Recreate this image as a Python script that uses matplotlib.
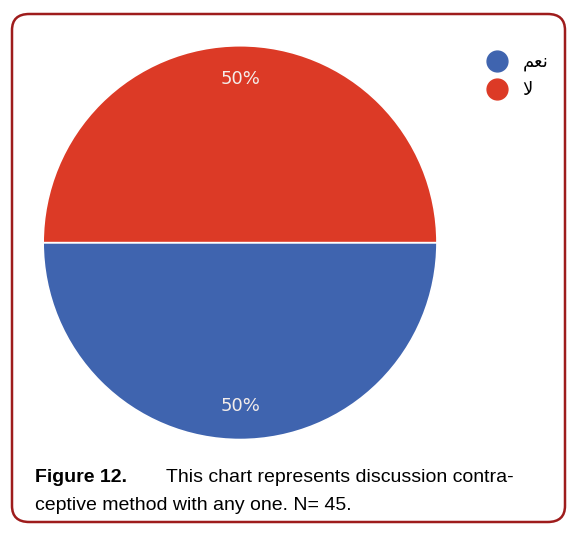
import matplotlib
matplotlib.use('Agg')
import matplotlib.pyplot as plt
from matplotlib.patches import FancyBboxPatch
from matplotlib.lines import Line2D

# Data
labels = ["\uFEE2\uFECC\uFEE7", "\uFEFB"]  # نعم , لا (visual order, shaped forms)
values = [50, 50]
colors = ["#3F64AF", "#DC3A26"]

W, H = 575, 538
fig = plt.figure(figsize=(W/100, H/100), dpi=100)

# rounded border
border = FancyBboxPatch((12/W, 16/H), 553/W, 508/H, boxstyle="round,pad=0,rounding_size=0.03",
                        transform=fig.transFigure, fill=False, edgecolor="#9E1C1C", linewidth=1.8)
fig.patches.append(border)

ax = fig.add_axes([0.075, 0.183, 0.685, 0.732])
wedges, texts, autotexts = ax.pie(values, colors=colors, startangle=180, counterclock=True,
                                  autopct='%1.0f%%', pctdistance=0.83,
                                  wedgeprops=dict(edgecolor='white', linewidth=1.2),
                                  textprops=dict(color='#F4EDEA', fontsize=13))
ax.set_xlim(-1, 1)
ax.set_ylim(-1, 1)
ax.set_aspect('equal')

handles = [Line2D([], [], marker='o', linestyle='', markersize=15, color=c) for c in colors]
fig.legend(handles, labels, loc='upper left', bbox_to_anchor=(470/W, 1 - 44/H), frameon=False,
           fontsize=13, handletextpad=0.4, labelspacing=0.55, borderpad=0)

fig.text(35/W, 1 - 478/H, "Figure 12.", fontsize=14, fontweight='bold', va='center', family='Liberation Sans')
fig.text(166/W, 1 - 478/H, "This chart represents discussion contra-", fontsize=14, va='center', family='Liberation Sans')
fig.text(35/W, 1 - 505/H, "ceptive method with any one. N= 45.", fontsize=14, va='center', family='Liberation Sans')

fig.savefig("out.png", dpi=100)
